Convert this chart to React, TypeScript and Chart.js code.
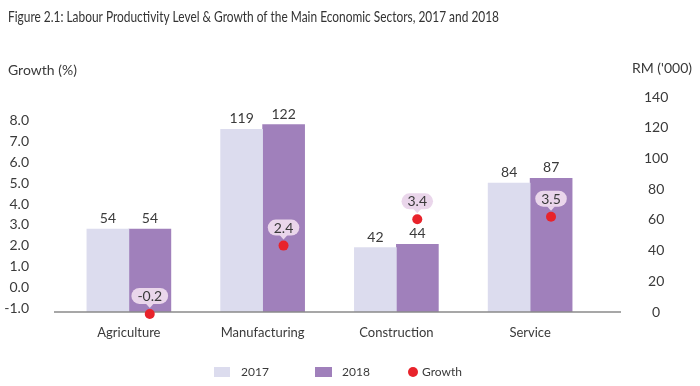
import React, { useEffect, useRef } from "react";
import { Chart, registerables } from "chart.js";

Chart.register(...registerables);

const CATEGORIES = ["Agriculture", "Manufacturing", "Construction", "Service"];
const LEVEL_2017 = [54, 119, 42, 84];
const LEVEL_2018 = [54, 122, 44, 87];
const GROWTH = [-0.2, 2.4, 3.4, 3.5];
const GROWTH_TICKS = [-1, 0, 1, 2, 3, 4, 5, 6, 7, 8];
const SERIES_NAMES = ["2017", "2018", "Growth"];

const TITLE =
  "Figure 2.1: Labour Productivity Level & Growth of the Main Economic Sectors, 2017 and 2018";
const LEFT_TITLE = "Growth (%)";
const RIGHT_TITLE = "RM ('000)";

const FONT = "Lato, 'Open Sans', sans-serif";
const C2017 = "#dcdcee";
const C2018 = "#a080bb";
const CRED = "#e8232b";
const CPINK = "#ead6eb";
const TEXT = "#3a3a3a";
const CAT_PCT = 0.625;
const BAR_W = 42;

function roundRectPath(ctx: CanvasRenderingContext2D, x: number, y: number, w: number, h: number, r: number) {
  ctx.beginPath();
  ctx.moveTo(x + r, y);
  ctx.lineTo(x + w - r, y);
  ctx.arc(x + w - r, y + r, r, -Math.PI / 2, 0);
  ctx.lineTo(x + w, y + h - r);
  ctx.arc(x + w - r, y + h - r, r, 0, Math.PI / 2);
  ctx.lineTo(x + r, y + h);
  ctx.arc(x + r, y + h - r, r, Math.PI / 2, Math.PI);
  ctx.lineTo(x, y + r);
  ctx.arc(x + r, y + r, r, Math.PI, Math.PI * 1.5);
  ctx.closePath();
}

const overlayPlugin = {
  id: "overlay",
  afterDatasetsDraw(chart: any) {
    const ctx: CanvasRenderingContext2D = chart.ctx;
    const ca = chart.chartArea;
    ctx.save();
    // baseline
    const y0 = chart.scales.yRM.getPixelForValue(0);
    ctx.strokeStyle = "#8a8a8a";
    ctx.lineWidth = 1.5;
    ctx.beginPath();
    ctx.moveTo(ca.left - 8, y0);
    ctx.lineTo(ca.right + 24, y0);
    ctx.stroke();

    // bar value labels
    ctx.font = `14px ${FONT}`;
    ctx.fillStyle = TEXT;
    ctx.textAlign = "center";
    ctx.textBaseline = "alphabetic";
    [1, 2].forEach((di) => {
      const meta = chart.getDatasetMeta(di);
      const vals = chart.data.datasets[di].data as number[];
      meta.data.forEach((el: any, j: number) => {
        ctx.fillText(String(vals[j]), el.x, el.y - 6);
      });
    });

    // growth dots + labels
    const gm = chart.getDatasetMeta(0);
    gm.data.forEach((pt: any, j: number) => {
      ctx.fillStyle = CRED;
      ctx.beginPath();
      ctx.arc(pt.x, pt.y, 5, 0, Math.PI * 2);
      ctx.fill();
      const txt = GROWTH[j].toFixed(1);
      ctx.font = `14px ${FONT}`;
      const tw = ctx.measureText(txt).width;
      const w = tw + 12;
      const h = 16;
      const cy = pt.y - 18;
      const x = pt.x - w / 2;
      const y = cy - h / 2;
      ctx.fillStyle = CPINK;
      roundRectPath(ctx, x, y, w, h, h / 2);
      ctx.fill();
      ctx.beginPath();
      ctx.moveTo(pt.x - 4, y + h - 0.5);
      ctx.lineTo(pt.x + 4, y + h - 0.5);
      ctx.lineTo(pt.x, y + h + 4);
      ctx.closePath();
      ctx.fill();
      ctx.fillStyle = TEXT;
      ctx.textBaseline = "middle";
      ctx.fillText(txt, pt.x, cy + 0.5);
    });
    ctx.restore();
  },
  afterDraw(chart: any) {
    const ctx: CanvasRenderingContext2D = chart.ctx;
    ctx.save();
    ctx.fillStyle = "#333333";
    ctx.textAlign = "left";
    ctx.textBaseline = "middle";
    ctx.font = `15px ${FONT}`;
    ctx.fillText(TITLE, 8, 17, 491);
    ctx.fillStyle = TEXT;
    ctx.font = `14px ${FONT}`;
    ctx.fillText(LEFT_TITLE, 8, 70);
    ctx.textAlign = "right";
    ctx.fillText(RIGHT_TITLE, 692, 68);

    // legend
    const ly = 372;
    ctx.font = `12px ${FONT}`;
    ctx.textAlign = "left";
    ctx.fillStyle = C2017;
    ctx.fillRect(214, ly - 5, 16, 10);
    ctx.fillStyle = TEXT;
    ctx.fillText(SERIES_NAMES[0], 241, ly);
    ctx.fillStyle = C2018;
    ctx.fillRect(315, ly - 5, 17, 10);
    ctx.fillStyle = TEXT;
    ctx.fillText(SERIES_NAMES[1], 342, ly);
    ctx.fillStyle = CRED;
    ctx.beginPath();
    ctx.arc(413, ly, 5, 0, Math.PI * 2);
    ctx.fill();
    ctx.fillStyle = TEXT;
    ctx.fillText(SERIES_NAMES[2], 422, ly);
    ctx.restore();
  },
};

export default function App() {
  const ref = useRef<HTMLCanvasElement | null>(null);

  useEffect(() => {
    document.body.style.margin = "0";
    if (!ref.current) return;
    const chart = new Chart(ref.current, {
      type: "bar",
      data: {
        labels: CATEGORIES,
        datasets: [
          {
            type: "line",
            label: SERIES_NAMES[2],
            data: GROWTH.map((g, i) => ({ x: i, y: g })),
            xAxisID: "xG",
            yAxisID: "yDots",
            showLine: false,
            pointRadius: 0,
            pointHoverRadius: 0,
            borderColor: CRED,
            clip: false,
            order: 0,
          } as any,
          {
            type: "bar",
            label: SERIES_NAMES[0],
            data: LEVEL_2017,
            backgroundColor: C2017,
            yAxisID: "yRM",
            xAxisID: "x",
            barThickness: BAR_W,
            order: 1,
          },
          {
            type: "bar",
            label: SERIES_NAMES[1],
            data: LEVEL_2018,
            backgroundColor: C2018,
            yAxisID: "yRM",
            xAxisID: "x",
            barThickness: BAR_W,
            order: 1,
          },
        ],
      },
      options: {
        responsive: false,
        animation: false,
        events: [],
        layout: { padding: { top: 97, bottom: 34, left: 0, right: 0 } },
        plugins: {
          legend: { display: false },
          title: { display: false },
          tooltip: { enabled: false },
        },
        scales: {
          x: {
            type: "category",
            position: "bottom",
            grid: { display: false, drawTicks: false },
            border: { display: false },
            ticks: { padding: 13, color: TEXT, font: { family: FONT, size: 13 } },
            afterFit: (s: any) => {
              s.height = 40;
            },
          },
          xG: {
            type: "linear",
            display: false,
            offset: false,
            min: -0.5 - CAT_PCT / 4,
            max: CATEGORIES.length - 0.5 - CAT_PCT / 4,
          },
          yGrowth: {
            type: "linear",
            position: "left",
            min: -1.193,
            max: 9.153,
            grid: { display: false, drawTicks: false },
            border: { display: false },
            afterBuildTicks: (s: any) => {
              s.ticks = GROWTH_TICKS.map((v) => ({ value: v }));
            },
            ticks: {
              padding: 33,
              color: TEXT,
              font: { family: FONT, size: 14 },
              callback: (v: any) => Number(v).toFixed(1),
            },
            afterFit: (s: any) => {
              s.width = 62;
            },
          },
          yDots: {
            type: "linear",
            position: "left",
            display: true,
            min: -0.126,
            max: 8.055,
            grid: { display: false, drawTicks: false },
            border: { display: false },
            ticks: { display: false },
            afterFit: (s: any) => {
              s.width = 0;
            },
          },
          yRM: {
            type: "linear",
            position: "right",
            min: 0,
            max: 140,
            grid: { display: false, drawTicks: false },
            border: { display: false },
            ticks: {
              stepSize: 20,
              padding: 47,
              crossAlign: "center",
              color: TEXT,
              font: { family: FONT, size: 14 },
            },
            afterFit: (s: any) => {
              s.width = 103;
            },
          },
        },
      } as any,
      plugins: [overlayPlugin],
    });
    return () => chart.destroy();
  }, []);

  return (
    <div style={{ width: 700, height: 386 }}>
      <canvas ref={ref} width={700} height={386} style={{ width: 700, height: 386, display: "block" }} />
    </div>
  );
}
